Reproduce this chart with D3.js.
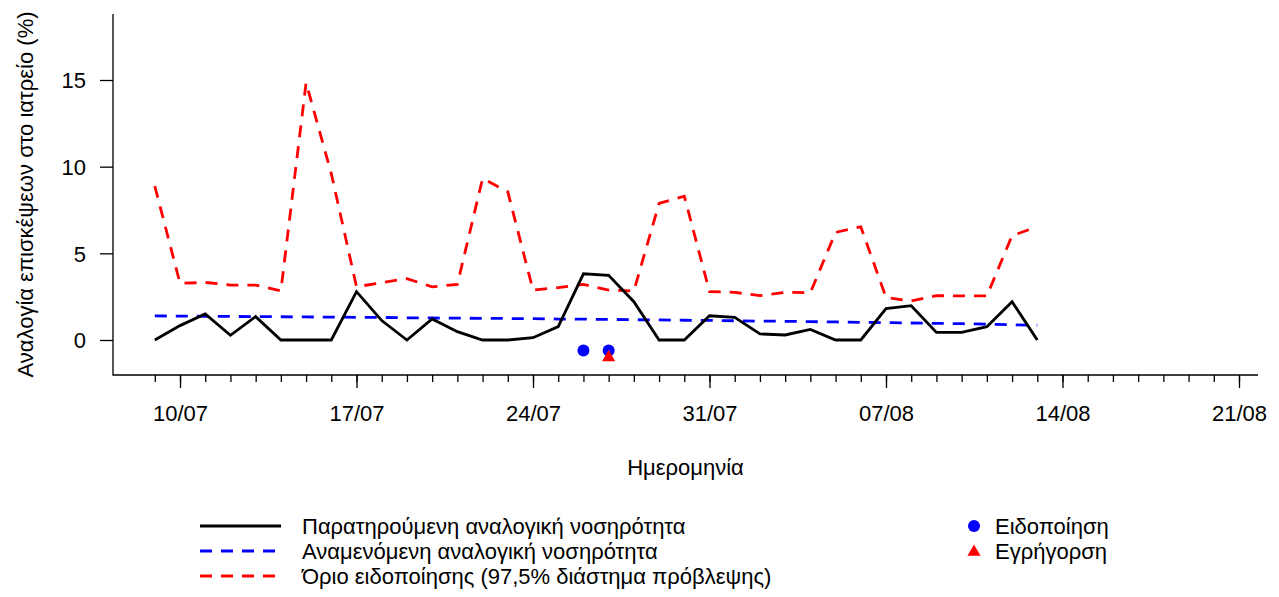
<!DOCTYPE html>
<html lang="el">
<head>
<meta charset="UTF-8">
<title>Αναλογική νοσηρότητα</title>
<script src="https://d3js.org/d3.v7.min.js"></script>
<style>
    body { margin: 0; background: #fff; }
    svg { display: block; font-family: "Liberation Sans", Arial, sans-serif; }
    .axis line, .axis path { stroke: #000; stroke-width: 1.3px; }
    .axis text { font-size: 22px; fill: #000; }
    .lbl { font-size: 22px; fill: #000; }
</style>
</head>
<body>
<div id="chart"></div>
<script>
    // daily values from 09/07 to 13/08
    const firstDay = "2017-07-09";
    const observed = [0, 0.83, 1.5, 0.27, 1.35, 0, 0, 0, 2.79, 1.12, 0, 1.21, 0.48, 0, 0, 0.13, 0.77, 3.82,
        3.73, 2.21, 0, 0, 1.4, 1.31, 0.35, 0.29, 0.61, 0, 0, 1.81, 1.98, 0.44, 0.44, 0.77, 2.21, 0];
    const expected = [1.39, 1.38, 1.37, 1.36, 1.35, 1.34, 1.33, 1.32, 1.31, 1.30, 1.28, 1.27, 1.26, 1.25, 1.24, 1.23,
        1.21, 1.20, 1.19, 1.17, 1.16, 1.14, 1.13, 1.11, 1.09, 1.08, 1.06, 1.04, 1.02, 1.00, 0.98, 0.96, 0.94, 0.91, 0.88, 0.85];
    const threshold = [8.88, 3.27, 3.32, 3.17, 3.17, 2.83, 14.84, 9.6, 3.07, 3.31, 3.54, 3.07, 3.21, 9.32, 8.55, 2.88,
        3.02, 3.21, 2.88, 2.83, 7.88, 8.3, 2.79, 2.75, 2.56, 2.75, 2.73, 6.21, 6.53, 2.46, 2.25, 2.56, 2.54, 2.54, 6.02, 6.53];
    const alerts = [{ date: "2017-07-26", value: -0.6 }, { date: "2017-07-27", value: -0.6 }];
    const alarms = [{ date: "2017-07-27", value: -1 }];
    const xTickDates = ["2017-07-10", "2017-07-17", "2017-07-24", "2017-07-31", "2017-08-07", "2017-08-14", "2017-08-21"];
    const yTicks = [0, 5, 10, 15];

    const seriesNames = ["Παρατηρούμενη αναλογική νοσηρότητα", "Αναμενόμενη αναλογική νοσηρότητα",
        "Όριο ειδοποίησης (97,5% διάστημα πρόβλεψης)"];
    const markerNames = ["Ειδοποίηση", "Εγρήγορση"];

    const width = 1279, height = 597;
    const box = { left: 113, right: 1258, top: 14, bottom: 375 };
    const dash = "12,9";
    const parse = d3.utcParse("%Y-%m-%d");
    const start = parse(firstDay);
    const days = d3.utcDay.range(start, d3.utcDay.offset(start, observed.length));
    const ticksMajor = xTickDates.map(parse);

    const x = d3.scaleUtc()
        .domain([start, ticksMajor[ticksMajor.length - 1]])
        .range([154.8, 1239]);
    const y = d3.scaleLinear().domain([0, 15]).range([340, 80]);

    const svg = d3.select("#chart").append("svg")
        .attr("width", width).attr("height", height);

    // L-shaped box
    svg.append("path")
        .attr("d", `M${box.left},${box.top}V${box.bottom}H${box.right}`)
        .attr("fill", "none").attr("stroke", "#000").attr("stroke-width", 1.3);

    // x axis: minor daily ticks, major weekly ticks
    const minor = d3.utcDay.range(start, d3.utcDay.offset(ticksMajor[ticksMajor.length - 1], 1));
    svg.append("g").attr("class", "axis")
        .attr("transform", `translate(0,${box.bottom})`)
        .call(d3.axisBottom(x).tickValues(minor).tickSize(7).tickFormat(""))
        .call(g => g.select(".domain").remove());
    svg.append("g").attr("class", "axis")
        .attr("transform", `translate(0,${box.bottom})`)
        .call(d3.axisBottom(x).tickValues(ticksMajor).tickSize(13).tickPadding(17)
            .tickFormat(d3.utcFormat("%d/%m")))
        .call(g => g.select(".domain").remove());

    svg.append("g").attr("class", "axis")
        .attr("transform", `translate(${box.left},0)`)
        .call(d3.axisLeft(y).tickValues(yTicks).tickSize(13).tickPadding(14))
        .call(g => g.select(".domain").remove())
        .call(g => g.selectAll("text").attr("dy", "0.36em"));

    svg.append("text").attr("class", "lbl")
        .attr("x", (box.left + box.right) / 2).attr("y", 475)
        .attr("text-anchor", "middle").text("Ημερομηνία");
    svg.append("text").attr("class", "lbl")
        .attr("transform", `translate(33,${(box.top + box.bottom) / 2}) rotate(-90)`)
        .attr("text-anchor", "middle").text("Αναλογία επισκέψεων στο ιατρείο (%)");

    const line = d3.line().x((d, i) => x(days[i])).y(d => y(d));

    svg.append("path").datum(threshold)
        .attr("d", line).attr("fill", "none")
        .attr("stroke", "#ff0000").attr("stroke-width", 2.8).attr("stroke-dasharray", dash);
    svg.append("path").datum(expected)
        .attr("d", line).attr("fill", "none")
        .attr("stroke", "#0000ff").attr("stroke-width", 2.8).attr("stroke-dasharray", dash);
    svg.append("path").datum(observed)
        .attr("d", line).attr("fill", "none")
        .attr("stroke", "#000").attr("stroke-width", 2.8).attr("stroke-linejoin", "miter");

    svg.selectAll(".alert").data(alerts).enter().append("circle")
        .attr("cx", d => x(parse(d.date))).attr("cy", d => y(d.value))
        .attr("r", 6).attr("fill", "#0000ff");
    const tri = d3.symbol().type(d3.symbolTriangle).size(75);
    svg.selectAll(".alarm").data(alarms).enter().append("path")
        .attr("transform", d => `translate(${x(parse(d.date))},${y(d.value)})`)
        .attr("d", tri).attr("fill", "#ff0000");

    // legend
    const legendStyles = [
        { color: "#000", dash: null },
        { color: "#0000ff", dash: dash },
        { color: "#ff0000", dash: dash }
    ];
    const rowY = [526, 551, 576];
    seriesNames.forEach((name, i) => {
        svg.append("line")
            .attr("x1", 200).attr("x2", 281).attr("y1", rowY[i]).attr("y2", rowY[i])
            .attr("stroke", legendStyles[i].color).attr("stroke-width", 2.8)
            .attr("stroke-dasharray", legendStyles[i].dash);
        svg.append("text").attr("class", "lbl")
            .attr("x", 302).attr("y", rowY[i]).attr("dy", "0.35em").text(name);
    });
    svg.append("circle").attr("cx", 974).attr("cy", rowY[0]).attr("r", 6).attr("fill", "#0000ff");
    svg.append("path").attr("transform", `translate(974,${rowY[1] + 1})`)
        .attr("d", tri).attr("fill", "#ff0000");
    markerNames.forEach((name, i) => {
        svg.append("text").attr("class", "lbl")
            .attr("x", 995).attr("y", rowY[i]).attr("dy", "0.35em").text(name);
    });
</script>
</body>
</html>
